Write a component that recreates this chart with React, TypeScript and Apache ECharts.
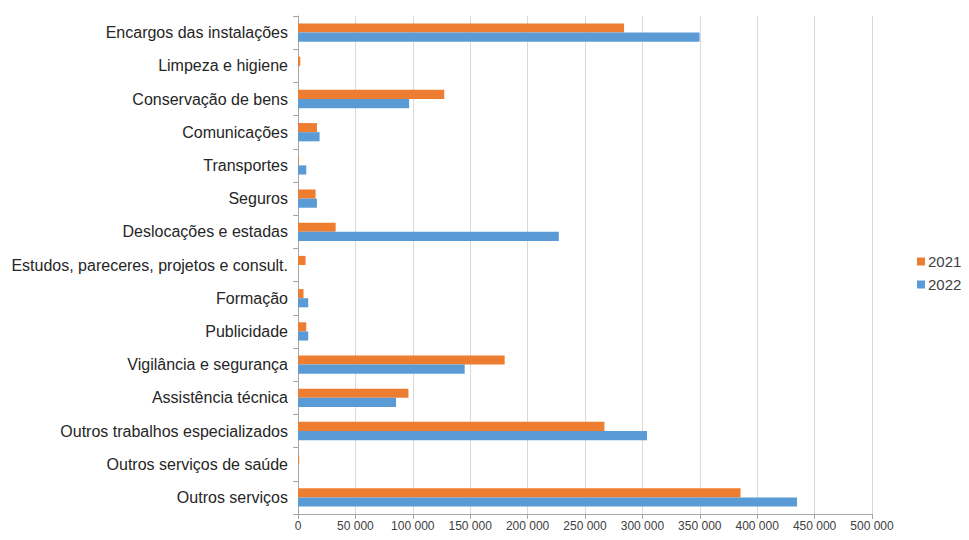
import React, { useEffect, useRef } from "react";
import * as echarts from "echarts";

const categories = [
  "Encargos das instalações",
  "Limpeza e higiene",
  "Conservação de bens",
  "Comunicações",
  "Transportes",
  "Seguros",
  "Deslocações e estadas",
  "Estudos, pareceres, projetos e consult.",
  "Formação",
  "Publicidade",
  "Vigilância e segurança",
  "Assistência técnica",
  "Outros trabalhos especializados",
  "Outros serviços de saúde",
  "Outros serviços",
];

const values2021 = [284000, 2000, 127400, 16500, 700, 15300, 32800, 6600, 4800, 7200, 180000, 96200, 266900, 1000, 385500];
const values2022 = [349800, 0, 96800, 18800, 7200, 16500, 227200, 0, 8900, 8900, 145200, 85400, 304000, 0, 434700];

const seriesNames = ["2021", "2022"];
const colors = ["#ED7D31", "#5B9BD5"];

export default function App() {
  const ref = useRef<HTMLDivElement>(null);
  useEffect(() => {
    if (!ref.current) return;
    const chart = echarts.init(ref.current, undefined, { renderer: "svg" });
    const fmt = (v: number) => String(v).replace(/\B(?=(\d{3})+(?!\d))/g, " ");
    chart.setOption({
      animation: false,
      textStyle: { fontFamily: "Liberation Sans, Arial, sans-serif" },
      legend: {
        orient: "vertical",
        left: 912,
        top: 249,
        itemWidth: 8,
        itemHeight: 8,
        itemGap: 8,
        icon: "rect",
        textStyle: { fontSize: 15, color: "#404040", padding: [0, 0, 0, -2] },
        data: seriesNames,
      },
      grid: { left: 298, right: 97, top: 16, bottom: 26 },
      xAxis: {
        type: "value",
        min: 0,
        max: 500000,
        interval: 50000,
        axisLine: { show: true, lineStyle: { color: "#a6a6a6" } },
        axisTick: { show: true, length: 5, lineStyle: { color: "#a6a6a6" } },
        axisLabel: { fontSize: 12, color: "#404040", formatter: fmt, margin: 6 },
        splitLine: { show: true, lineStyle: { color: "#d9d9d9" } },
      },
      yAxis: {
        type: "category",
        data: categories,
        inverse: true,
        axisLine: { show: true, lineStyle: { color: "#a6a6a6" } },
        axisTick: { show: true, length: 5, lineStyle: { color: "#a6a6a6" } },
        axisLabel: { fontSize: 16, color: "#262626", margin: 10 },
        splitLine: { show: false },
      },
      series: [
        {
          name: seriesNames[0],
          type: "bar",
          data: values2021,
          itemStyle: { color: colors[0] },
          barGap: "0%",
          barCategoryGap: "45%",
        },
        {
          name: seriesNames[1],
          type: "bar",
          data: values2022,
          itemStyle: { color: colors[1] },
          barGap: "0%",
          barCategoryGap: "45%",
        },
      ],
    });
    return () => chart.dispose();
  }, []);
  return <div ref={ref} style={{ width: 969, height: 540, position: "absolute", left: 0, top: 0 }} />;
}
